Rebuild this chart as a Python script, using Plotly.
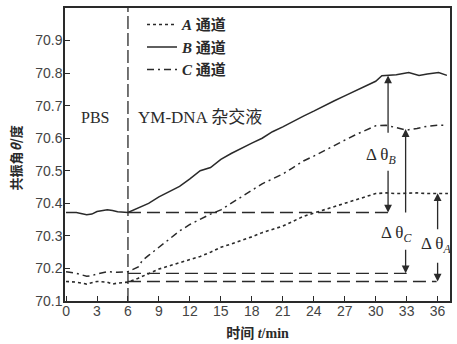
import plotly.graph_objects as go

# ---- data ----
t_A = [0, 1, 2, 3, 4, 4.5, 5, 6, 7, 8, 9, 10, 11, 12, 13, 14, 15, 16, 17, 18, 19, 20,
       21, 22, 23, 24, 25, 26, 27, 28, 29, 30, 31, 32, 33, 34, 35, 36, 37]
v_A = [70.16, 70.158, 70.152, 70.16, 70.158, 70.152, 70.155, 70.158, 70.17, 70.185, 70.198,
       70.208, 70.218, 70.228, 70.237, 70.25, 70.265, 70.275, 70.285, 70.297, 70.31, 70.32,
       70.33, 70.345, 70.36, 70.37, 70.38, 70.39, 70.40, 70.41, 70.42, 70.43, 70.432, 70.43,
       70.431, 70.432, 70.43, 70.431, 70.43]

t_B = [0, 1, 2, 2.5, 3, 4, 4.5, 5, 6, 7, 8, 9, 10, 11, 12, 13, 14, 15, 16, 17, 18, 19, 20,
       21, 22, 23, 24, 25, 26, 27, 28, 29, 30, 30.6, 31, 32, 33.2, 34.2, 35, 36.1, 36.9]
v_B = [70.372, 70.372, 70.365, 70.367, 70.375, 70.38, 70.378, 70.374, 70.372, 70.385, 70.40,
       70.42, 70.435, 70.452, 70.475, 70.50, 70.51, 70.535, 70.553, 70.57, 70.585, 70.60, 70.62,
       70.635, 70.652, 70.668, 70.683, 70.70, 70.715, 70.73, 70.745, 70.76, 70.775, 70.792,
       70.793, 70.795, 70.802, 70.793, 70.797, 70.802, 70.793]

t_C = [0, 1, 2, 2.5, 3, 4, 5, 6, 7, 7.4, 8, 9, 10, 11, 12, 13, 14, 15, 16, 17, 18, 19, 20,
       21, 22, 23, 24, 25, 26, 27, 28, 29, 30, 31, 32, 33, 34, 35, 36, 36.7]
v_C = [70.19, 70.185, 70.176, 70.178, 70.183, 70.19, 70.188, 70.19, 70.205, 70.225, 70.24,
       70.265, 70.29, 70.315, 70.335, 70.352, 70.367, 70.38, 70.40, 70.42, 70.44, 70.46, 70.475,
       70.49, 70.51, 70.53, 70.545, 70.562, 70.578, 70.594, 70.61, 70.625, 70.638, 70.64,
       70.632, 70.625, 70.63, 70.637, 70.64, 70.64]

# reference (baseline) levels and where their dashed guides end
base_levels = [70.372, 70.185, 70.16]
base_ends = [31.4, 33.0, 35.9]
inject_t = 6

# delta arrows: x position, bottom, top, label position
delta_names = ["B", "C", "A"]
delta_x = [31.2, 32.9, 36.0]
delta_lo = [70.372, 70.185, 70.16]
delta_hi = [70.793, 70.628, 70.431]
delta_gap_lo = [70.505, 70.262, 70.222]
delta_gap_hi = [70.612, 70.367, 70.316]
delta_lab_x = [30.5, 32.0, 35.85]
delta_lab_y = [70.545, 70.305, 70.272]

x_ticks = [0, 3, 6, 9, 12, 15, 18, 21, 24, 27, 30, 33, 36]
y_ticks = [70.1, 70.2, 70.3, 70.4, 70.5, 70.6, 70.7, 70.8, 70.9]

INK = "#2a2a2a"
fig = go.Figure()

fig.add_trace(go.Scatter(x=t_A, y=v_A, mode="lines", name="<b><i>A</i> 通道</b>",
                         line=dict(color=INK, width=1.6, dash="dot")))
fig.add_trace(go.Scatter(x=t_B, y=v_B, mode="lines", name="<b><i>B</i> 通道</b>",
                         line=dict(color=INK, width=1.5)))
fig.add_trace(go.Scatter(x=t_C, y=v_C, mode="lines", name="<b><i>C</i> 通道</b>",
                         line=dict(color=INK, width=1.5, dash="7px,4px,2px,4px")))

# vertical injection line
fig.add_trace(go.Scatter(x=[inject_t, inject_t], y=[70.1, 71.0], mode="lines", showlegend=False,
                         line=dict(color=INK, width=1.3, dash="13px,4px"), hoverinfo="skip"))
# baseline dashed guides
for lev, end in zip(base_levels, base_ends):
    fig.add_trace(go.Scatter(x=[inject_t, end], y=[lev, lev], mode="lines", showlegend=False,
                             line=dict(color=INK, width=1.4, dash="13px,6px"), hoverinfo="skip"))

annotations = []
for name, x, lo, hi, glo, ghi, lx, ly in zip(delta_names, delta_x, delta_lo, delta_hi,
                                               delta_gap_lo, delta_gap_hi, delta_lab_x, delta_lab_y):
    annotations.append(dict(x=x, y=hi, ax=x, ay=ghi, xref="x", yref="y", axref="x", ayref="y",
                            text="", showarrow=True, arrowhead=2, arrowsize=1.2,
                            arrowwidth=1.3, arrowcolor=INK))
    annotations.append(dict(x=x, y=lo, ax=x, ay=glo, xref="x", yref="y", axref="x", ayref="y",
                            text="", showarrow=True, arrowhead=2, arrowsize=1.2,
                            arrowwidth=1.3, arrowcolor=INK))
    annotations.append(dict(x=lx, y=ly, xref="x", yref="y", showarrow=False,
                            text="Δ θ<sub><i>%s</i></sub>" % name,
                            font=dict(family="Liberation Serif", size=17, color=INK)))

annotations.append(dict(x=2.8, y=70.664, xref="x", yref="y", showarrow=False, text="PBS",
                        font=dict(family="Liberation Serif, Noto Sans CJK SC", size=16, color=INK)))
annotations.append(dict(x=13.0, y=70.664, xref="x", yref="y", showarrow=False, text="YM-DNA 杂交液",
                        font=dict(family="Liberation Serif, Noto Sans CJK SC", size=17, color=INK)))
# y-axis title placed as rotated text
annotations.append(dict(x=-0.13, y=0.49, xref="paper", yref="paper", showarrow=False,
                        textangle=-90, xanchor="center", yanchor="middle",
                        text="<b>共振角<i>θ</i>/度</b>",
                        font=dict(family="Noto Sans CJK SC", size=13, color=INK)))

fig.update_layout(
    width=457, height=344,
    margin=dict(l=65, r=5, t=8, b=42),
    paper_bgcolor="white", plot_bgcolor="white",
    annotations=annotations,
    showlegend=True,
    legend=dict(x=0.20, y=0.999, xanchor="left", yanchor="top", bgcolor="rgba(0,0,0,0)",
                font=dict(family="Liberation Serif, Noto Sans CJK SC", size=15, color=INK),
                itemwidth=30, tracegroupgap=0),
    xaxis=dict(range=[-0.1, 37.2], tickvals=x_ticks, ticks="inside", ticklen=5, tickcolor=INK,
               showline=True, linecolor=INK, linewidth=1.5, mirror=True, showgrid=False,
               zeroline=False, ticklabelstandoff=-4,
               tickfont=dict(family="Liberation Sans", size=14, color="#444"),
               title=dict(text="<b>时间 <i>t</i>/min</b>", standoff=11,
                          font=dict(family="Liberation Serif, Noto Sans CJK SC", size=14, color=INK))),
    yaxis=dict(range=[70.1, 71.0], tickvals=y_ticks, ticktext=[f"{v:.1f}" for v in y_ticks],
               ticks="inside", ticklen=5, tickcolor=INK,
               showline=True, linecolor=INK, linewidth=1.5, mirror=True, showgrid=False,
               zeroline=False, ticklabelstandoff=-2,
               tickfont=dict(family="Liberation Sans", size=14, color="#444")),
)

# remove the page's default body margin so the figure fills the window exactly
fig.write_html("out.html", config={"displayModeBar": False},
               post_script="document.body.style.margin='0';")
